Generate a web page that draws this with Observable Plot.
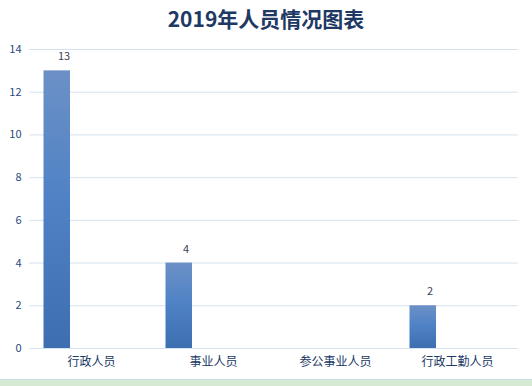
<!DOCTYPE html>
<html>
<head>
<meta charset="utf-8">
<script src="https://cdn.jsdelivr.net/npm/d3@7"></script>
<script src="https://cdn.jsdelivr.net/npm/@observablehq/plot@0.6"></script>
<style>
  html, body { margin: 0; padding: 0; background: #ffffff; width: 532px; height: 386px; overflow: hidden; }
  #title { height: 36px; line-height: 36px; text-align: center; font-family: "Noto Sans CJK SC", sans-serif; font-weight: bold; font-size: 21px; color: #203864; }
  #strip { height: 6px; background: #d6e9d3; border-top: 1px solid #c9daea; }
</style>
</head>
<body>
<div id="title">2019年人员情况图表</div>
<div id="chart"></div>
<div id="strip"></div>
<script>
const categories = ["行政人员", "事业人员", "参公事业人员", "行政工勤人员"];
const values = [13, 4, null, 2];
const yTicks = [0, 2, 4, 6, 8, 10, 12, 14];

const data = categories.map((c, i) => ({category: c, value: values[i]}));
const barData = data.filter(d => d.value != null);

const gradient = () => {
  const defs = d3.create("svg:defs");
  const g = defs.append("linearGradient").attr("id", "barGrad").attr("x1", 0).attr("y1", 0).attr("x2", 0).attr("y2", 1);
  g.append("stop").attr("offset", "0%").attr("stop-color", "#6c90c6");
  g.append("stop").attr("offset", "45%").attr("stop-color", "#5083c5");
  g.append("stop").attr("offset", "100%").attr("stop-color", "#3c6eb0");
  return defs.node();
};

const chart = Plot.plot({
  width: 532,
  height: 343,
  marginLeft: 29,
  marginRight: 14,
  marginTop: 13,
  marginBottom: 31,
  style: {fontFamily: "'Noto Sans CJK SC', sans-serif", background: "transparent"},
  x: {domain: categories, padding: 0, label: null},
  y: {domain: [0, 14], label: null},
  marks: [
    gradient,
    Plot.gridY(yTicks, {stroke: "#d6e2ef", strokeOpacity: 1}),
    Plot.axisY(yTicks, {tickSize: 0, tickPadding: 8, fontSize: 11, fill: "#284a7e", label: null}),
    Plot.axisX({tickSize: 0, tickPadding: 9, fontSize: 12, fill: "#203864", label: null}),
    Plot.barY(barData, {x: "category", y: "value", fill: "url(#barGrad)", insetLeft: 13.5, insetRight: 82}),
    Plot.text(barData, {x: "category", y: "value", text: d => String(d.value), dx: -27.5, dy: -14, fontSize: 11, fill: "#3a3f55"})
  ]
});
document.getElementById("chart").appendChild(chart);
</script>
</body>
</html>
